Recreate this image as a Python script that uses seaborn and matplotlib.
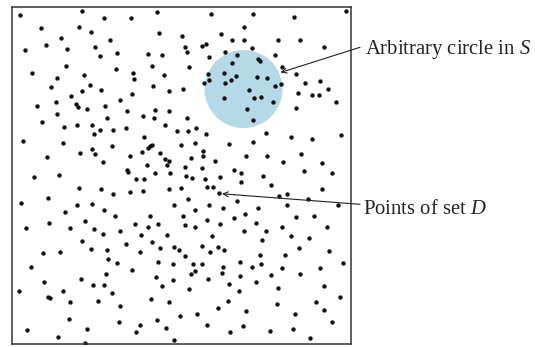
import matplotlib
matplotlib.use("Agg")
import matplotlib.pyplot as plt
import seaborn as sns
import pandas as pd
from matplotlib.patches import Circle

# dot positions (pixel coords), one list per region
top_left = [(20.3, 15.3), (82, 10.7), (103.7, 18), (40.7, 28.3), (79.3, 26.7), (90.7, 32), (60.7, 38),
            (110, 40.3), (45.7, 44.7), (25, 49.7), (67, 49), (95.3, 47.3), (116.7, 52.7), (100, 55.7),
            (66.3, 65.7), (115.7, 69.3), (31.7, 73.3), (84, 75.3), (57, 77.7), (89.7, 84.7), (51.3, 87.3),
            (101, 90), (82, 91), (71, 95.7), (120.3, 99.7), (56, 102.3), (37.3, 106), (75.7, 104.3),
            (77.7, 107), (105.3, 106), (86.7, 109), (57, 114.3), (106.7, 118.3)]
top_mid = [(157, 11.7), (211.3, 13.7), (131, 18.3), (159, 33.3), (182.3, 36), (220.7, 34.3), (232, 39.7),
           (205.7, 43.7), (201.7, 45.7), (185, 47.3), (187, 52), (148, 54), (161.7, 55), (208.7, 56.7),
           (225.3, 52), (236.7, 54.7), (152.3, 66), (189, 67), (232, 63), (133, 72.7), (163.7, 75.3),
           (207.7, 73.7), (224.3, 72.7), (134, 79), (235.7, 76.3), (231, 80), (209.3, 80), (204, 82.7),
           (225.3, 82.7), (153.3, 85.7), (183.3, 89.3), (169.3, 91.3), (132, 94), (223.7, 97.7),
           (127, 111), (155.3, 110), (169.3, 111), (143, 116.3), (154.3, 117.7), (187, 118.3)]
top_right = [(252.7, 14.3), (293.7, 17.3), (346, 10.7), (244, 26.7), (244, 40.3), (277.7, 40.3), (300, 39.7),
             (251.7, 48), (323.7, 47.3), (275, 54.7), (258, 59.3), (260, 61), (281.7, 67), (296.3, 74.3),
             (257.3, 77), (267.3, 78), (304.7, 82.7), (319.7, 81), (280.7, 83.7), (275, 86.3), (248.7, 90.3),
             (328.3, 89.3), (298.3, 93.3), (312.3, 94.7), (318.7, 94.7), (254.3, 97.7), (260.7, 96.7),
             (335.7, 101.7), (273, 101.7), (296.3, 107.7), (247, 109)]
mid_left = [(41.7, 122), (63.7, 126.7), (76.7, 124.7), (91.7, 124.7), (100, 129.7), (113, 129.7), (94.3, 134),
            (23, 140.7), (62.7, 143.3), (112, 146.3), (92.3, 149), (80.3, 152.7), (94.7, 154), (46.7, 156.7),
            (102.7, 162), (58.7, 174.7), (34.3, 177.3), (79, 187.7), (101, 188.7), (113, 194), (48.3, 198),
            (21.3, 202.7), (76.7, 205.3), (91.7, 204.3), (103.7, 209.7), (65.3, 212), (115, 215.7),
            (85, 221.3), (49.3, 223.3), (26, 227.7), (70, 227.7), (94.3, 228.7), (119.7, 230.7)]
center = [(165.3, 124.7), (126, 127.7), (177, 130.7), (188, 130.7), (196.3, 127.7), (205.7, 134.3), (144, 137),
          (229, 143.7), (151.7, 144.7), (150, 146.3), (148.3, 147.7), (181.3, 145.3), (194.7, 142.7),
          (142, 152), (159.7, 153), (202.7, 151), (202.7, 155.7), (130, 155.7), (165.3, 158.7),
          (169.3, 160.7), (190.7, 157.7), (215, 161.3), (146.7, 165), (167.3, 165), (185, 167),
          (201.7, 168), (233.7, 169.7), (127, 170.3), (128, 172), (155, 173.3), (170.3, 173.3),
          (186, 176.3), (191.7, 178.3), (204.7, 179), (219.7, 177.3), (135.7, 179), (144, 179),
          (169.3, 189.3), (180.7, 188.3), (206.7, 187.3), (213, 187.3), (218.7, 193), (130, 192),
          (143, 191), (188, 198.7), (173.7, 205.3), (208.7, 205.3), (195.3, 209.7), (223.3, 208),
          (149.7, 215.7), (183, 215.7), (206.7, 220), (233.7, 218), (134.7, 224), (147.7, 226.7),
          (157.7, 224), (185, 225), (194.7, 226.7), (219.7, 224)]
mid_right = [(252.7, 120), (265.7, 133.3), (341.3, 135), (253.3, 141.7), (291, 137), (311.7, 139),
             (246, 155.7), (266.7, 155.7), (301, 153.7), (283.3, 162), (322, 163), (241.3, 173.3),
             (262.7, 176.3), (304, 170.7), (332, 173.3), (241.3, 181.7), (271.3, 184.7), (322, 189.3),
             (278.7, 196), (287, 194), (307.7, 198.7), (237.3, 201.3), (287, 204.7), (337.7, 205.3),
             (258, 208), (245, 213.7), (295.7, 216.7), (314, 215.7), (256.3, 223.3), (282.3, 227.3),
             (327.3, 226.7), (244, 230.7), (265.7, 230.7)]
bottom_left = [(102.7, 234.3), (82, 241), (42.7, 253), (59.7, 252), (90.7, 249), (107.3, 250.3),
               (108.3, 258.7), (116.7, 263.3), (30.7, 267), (106.3, 273.7), (43.7, 282), (81.3, 279.3),
               (93.3, 284.7), (104.3, 285.3), (18.7, 290.7), (63.3, 290.7), (112, 293), (48.3, 297),
               (49.7, 298.3), (69.7, 301.7), (97.7, 300.7), (119.7, 305.7), (68.7, 319.3), (118.7, 322.3),
               (27, 330), (86.7, 328.7), (57.7, 337.3), (85, 342.5)]
bottom_mid = [(141, 235.3), (167.3, 235.3), (212, 236.3), (126, 243.7), (152.3, 241.7), (173.7, 247.3),
              (159.7, 248.3), (178.7, 250), (201.7, 245.7), (218, 246.7), (223.7, 250.3), (140, 252),
              (210.3, 252), (185, 255.7), (158, 262.3), (172.7, 264.3), (193.3, 264.3), (201.7, 264.3),
              (222.7, 267), (131.7, 269.7), (195.3, 271), (190.7, 273.7), (221.7, 272.7), (156, 277.3),
              (172.7, 280.3), (207.7, 279.3), (229, 283.7), (161.7, 285.7), (189, 288.7), (150.7, 298.7),
              (169.3, 301.7), (228, 300.7), (218, 308.3), (197.3, 313.7), (179.7, 315.7), (157, 319.7),
              (206.7, 325), (140, 325), (165.7, 328), (136.3, 331.7), (229.7, 331.7), (173.7, 340)]
bottom_right = [(291, 236.3), (308.7, 238), (262, 240), (299.3, 248.3), (329, 251.3), (260, 255),
                (285.3, 255), (240.3, 261.7), (260.7, 264.3), (251.7, 267), (281.7, 268), (320, 268),
                (343, 263.3), (240.3, 276.3), (271.3, 275.3), (300, 273.7), (256.3, 282), (324.3, 285.7),
                (238.7, 291.3), (277.7, 287.7), (339.7, 297), (316, 301.7), (276.7, 304.3), (246, 311),
                (324.3, 310), (294.7, 313.7), (332, 322.3), (243, 326), (292.7, 328.7), (270.3, 330.7),
                (309.7, 338.3)]

box_x = (11.5, 351)
box_y = (6.5, 344)
circle_center = (243.5, 89)
circle_radius = 39
labels = ["Arbitrary circle in $S$", "Points of set $D$"]

pts = top_left + top_mid + top_right + mid_left + center + mid_right + bottom_left + bottom_mid + bottom_right
df = pd.DataFrame(pts, columns=["x", "y"])

sns.set_style("white")
plt.rcParams["font.family"] = ["Liberation Serif", "DejaVu Serif"]
plt.rcParams["mathtext.fontset"] = "custom"
plt.rcParams["mathtext.rm"] = "Liberation Serif"
plt.rcParams["mathtext.it"] = "Liberation Serif:italic"

W, H = 535, 347
fig = plt.figure(figsize=(W / 100, H / 100), dpi=100)
ax = fig.add_axes([box_x[0] / W, 1 - box_y[1] / H, (box_x[1] - box_x[0]) / W, (box_y[1] - box_y[0]) / H])

ax.add_patch(Circle(circle_center, circle_radius, color="#b5d9e6", zorder=0, lw=0))
sns.scatterplot(data=df, x="x", y="y", ax=ax, s=10, color="#111111", linewidth=0, zorder=2)

ax.set_xlim(*box_x)
ax.set_ylim(box_y[1], box_y[0])
ax.set_xticks([])
ax.set_yticks([])
ax.set_xlabel("")
ax.set_ylabel("")
for sp in ax.spines.values():
    sp.set_visible(True)
    sp.set_color("#333333")
    sp.set_linewidth(1.1)

arrow = dict(arrowstyle="->", color="#222222", lw=0.8, shrinkA=0, shrinkB=0, mutation_scale=9)
ax.annotate("", xy=(280.5, 72.5), xytext=(360, 47.3), arrowprops=arrow, annotation_clip=False)
ax.annotate("", xy=(222, 193.8), xytext=(360, 204.3), arrowprops=arrow, annotation_clip=False)
ax.text(365, 54, labels[0], fontsize=14.9, color="#222222", va="baseline", ha="left", clip_on=False)
ax.text(363, 214, labels[1], fontsize=14.9, color="#222222", va="baseline", ha="left", clip_on=False)

fig.savefig("out.png", dpi=100)
